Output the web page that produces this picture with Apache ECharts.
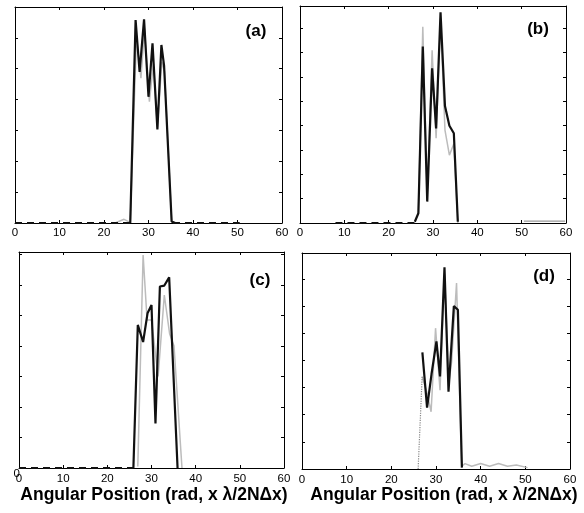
<!DOCTYPE html>
<html><head><meta charset="utf-8">
<script src="https://cdn.jsdelivr.net/npm/echarts@6/dist/echarts.min.js"></script>
<style>html,body{margin:0;padding:0;background:#fff}#c{width:584px;height:513px}</style>
</head><body><div id="c"></div>
<script>
// ---- axis settings (tick labels 0..60 step 10) ----
const xMin = 0, xMax = 60, xStep = 10;
const panelNames = ['(a)', '(b)', '(c)', '(d)'];
const panelYMax = [7.0, 8.92, 7.08, 7.96];
const axisTitle = 'Angular Position (rad, x \u03bb/2N\u0394x)';

// ---- panel (a) ----
const aBlackX = [25.9, 27.1, 28.0, 29.0, 30.0, 30.9, 32.0, 32.9, 33.5, 35.2, 36.0];
const aBlackY = [0, 6.58, 4.9, 6.6, 4.09, 5.82, 3.03, 5.77, 5.1, 0.05, 0];
const aGreyX = [22.5, 24.5, 25.9, 27.3, 28.3, 29.1, 30.2, 31.1, 32.0, 33.0, 33.6, 35.2, 36.0];
const aGreyY = [0, 0.12, 0.02, 6.03, 4.69, 6.3, 3.93, 5.17, 3.1, 5.22, 4.9, 0.05, 0];
const aBaseSegs = [[0, 25.9], [35.5, 50.5]];

// ---- panel (b) ----
const bBlackX = [25.9, 26.7, 27.7, 28.7, 29.8, 30.7, 31.7, 32.7, 33.7, 34.7, 35.6];
const bBlackY = [0.05, 0.4, 7.25, 0.88, 6.36, 3.89, 8.66, 4.81, 4.0, 3.69, 0.05];
const bGreyX = [26.7, 27.7, 28.7, 29.8, 30.7, 31.7, 32.7, 33.7, 34.7, 35.6];
const bGreyY = [0.4, 8.07, 1.2, 7.1, 3.48, 8.4, 3.82, 2.79, 3.26, 0];
const bBaseSegs = [[8, 25.9]];
const bGreyTailX = [50.5, 59.8];
const bGreyTailY = [0.08, 0.08];

// ---- panel (c) ----
const cBlackX = [25.9, 26.9, 28.1, 29.1, 30.0, 30.9, 31.9, 32.9, 34.0, 35.9];
const cBlackY = [0, 4.69, 4.13, 5.07, 5.34, 1.46, 5.95, 5.98, 6.25, 0];
const cGreyX = [26.9, 28.1, 29.0, 30.0, 31.5, 32.9, 34.1, 35.1, 36.9];
const cGreyY = [0.05, 6.98, 4.85, 4.85, 3.0, 5.67, 4.4, 4.0, 0];
const cBaseSegs = [[0, 25.9]];

// ---- panel (d) ----
const dBlackX = [26.95, 28.0, 29.0, 30.1, 30.9, 31.9, 32.8, 34.0, 34.9, 35.8];
const dBlackY = [4.3, 2.26, 3.5, 4.7, 3.41, 7.43, 2.85, 6.0, 5.87, 0.05];
const dGreyX = [26.9, 28.0, 28.9, 29.9, 30.9, 31.9, 32.9, 33.5, 34.6, 35.75, 36.5, 38, 40, 42, 44, 46, 48, 50.5];
const dGreyY = [3.4, 2.8, 2.11, 5.19, 2.9, 7.2, 3.2, 3.96, 6.85, 0.1, 0.2, 0.1, 0.2, 0.1, 0.2, 0.1, 0.15, 0.05];
const dDotX = [26.0, 26.9];
const dDotY = [0, 3.4];

// ---- layout ----
const grids = [
  {left: 15, top: 7, width: 267, height: 216},
  {left: 300, top: 6, width: 266, height: 217},
  {left: 19, top: 252, width: 265, height: 216},
  {left: 302, top: 253, width: 268, height: 216}
];
const labelMargins = [4, 4, 5, 5];
const panelLabelPos = [[256, 31], [538, 29], [260, 280], [544, 276]];
const titlePos = [[154, 495], [444, 495]];

const zip = (xs, ys) => xs.map((x, i) => [x, ys[i]]);
const FONT = 'Liberation Sans, Arial, sans-serif';

const xAxes = [], yAxes = [], series = [];
grids.forEach((g, i) => {
  const line = {show: true, onZero: false, lineStyle: {color: '#000', width: 1}};
  const tick = {show: true, inside: true, length: 3, lineStyle: {color: '#000', width: 1}};
  xAxes.push({type: 'value', gridIndex: i, position: 'bottom', min: xMin, max: xMax, interval: xStep,
    axisLine: line, axisTick: tick, splitLine: {show: false},
    axisLabel: {show: true, margin: labelMargins[i], color: '#000', fontSize: 11.5, fontFamily: FONT,
      showMinLabel: true, showMaxLabel: true}});
  xAxes.push({type: 'value', gridIndex: i, position: 'top', min: xMin, max: xMax, interval: xStep,
    axisLine: line, axisTick: tick, splitLine: {show: false}, axisLabel: {show: false}});
  yAxes.push({type: 'value', gridIndex: i, position: 'left', min: 0, max: panelYMax[i], interval: 1,
    axisLine: line, axisTick: tick, splitLine: {show: false},
    axisLabel: {show: i === 2, margin: -1, verticalAlign: 'top', color: '#000', fontSize: 11.5, fontFamily: FONT,
      formatter: v => (v === 0 ? '0' : '')}});
  yAxes.push({type: 'value', gridIndex: i, position: 'right', min: 0, max: panelYMax[i], interval: 1,
    axisLine: line, axisTick: tick, splitLine: {show: false}, axisLabel: {show: false}});
});

function addLine(i, data, color, width, type, z) {
  series.push({type: 'line', xAxisIndex: 2 * i, yAxisIndex: 2 * i, data: data,
    symbol: 'none', showSymbol: false, clip: false, silent: true, z: z,
    lineStyle: {color: color, width: width, type: type || 'solid'}});
}
const GREY = '#bcbcbc', BLACK = '#111';
// (a)
addLine(0, zip(aGreyX, aGreyY), GREY, 1.5, 'solid', 2);
addLine(0, zip(aBlackX, aBlackY), BLACK, 2.2, 'solid', 3);
aBaseSegs.forEach(s => addLine(0, [[s[0], 0], [s[1], 0]], BLACK, 2, [7, 5], 3));
// (b)
addLine(1, zip(bGreyX, bGreyY), GREY, 1.5, 'solid', 2);
addLine(1, zip(bGreyTailX, bGreyTailY), '#999', 1.2, 'solid', 2);
addLine(1, zip(bBlackX, bBlackY), BLACK, 2.2, 'solid', 3);
bBaseSegs.forEach(s => addLine(1, [[s[0], 0], [s[1], 0]], BLACK, 2, [7, 5], 3));
// (c)
addLine(2, zip(cGreyX, cGreyY), GREY, 1.5, 'solid', 2);
addLine(2, zip(cBlackX, cBlackY), BLACK, 2.2, 'solid', 3);
cBaseSegs.forEach(s => addLine(2, [[s[0], 0], [s[1], 0]], BLACK, 2, [7, 5], 3));
// (d)
addLine(3, zip(dGreyX, dGreyY), GREY, 1.5, 'solid', 2);
addLine(3, zip(dDotX, dDotY), '#888', 1.2, 'dotted', 2);
addLine(3, zip(dBlackX, dBlackY), BLACK, 2.2, 'solid', 3);

const graphics = [];
panelNames.forEach((t, i) => graphics.push({type: 'text', x: panelLabelPos[i][0], y: panelLabelPos[i][1],
  style: {text: t, fill: '#000', font: 'bold 17px ' + FONT, textAlign: 'center', textVerticalAlign: 'middle'}}));
titlePos.forEach(p => graphics.push({type: 'text', x: p[0], y: p[1],
  style: {text: axisTitle, fill: '#000', font: 'bold 17.5px ' + FONT, textAlign: 'center', textVerticalAlign: 'middle'}}));

const chart = echarts.init(document.getElementById('c'), null, {renderer: 'canvas'});
chart.setOption({
  animation: false,
  backgroundColor: '#fff',
  grid: grids.map(g => Object.assign({containLabel: false}, g)),
  xAxis: xAxes,
  yAxis: yAxes,
  series: series,
  graphic: graphics
});
</script></body></html>
